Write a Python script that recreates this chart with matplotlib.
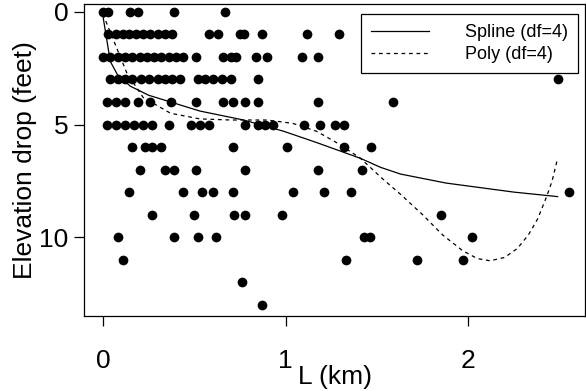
import matplotlib
matplotlib.use('Agg')
import matplotlib.pyplot as plt

plt.rcParams['font.family'] = ['Liberation Sans', 'DejaVu Sans']

# Stream length (km) and elevation drop (feet), one line per drop level
length_km = [
    0.00, 0.03, 0.15, 0.19, 0.39, 0.67,
    0.03, 0.07, 0.11, 0.14, 0.18, 0.22, 0.26, 0.30, 0.34, 0.38, 0.58, 0.63, 0.75, 0.77, 0.87, 1.12, 1.29,
    0.00, 0.04, 0.08, 0.12, 0.16, 0.20, 0.24, 0.28, 0.32, 0.36, 0.40, 0.44, 0.51, 0.66, 0.70, 0.73, 0.84, 0.90, 1.09, 1.18,
    0.04, 0.08, 0.12, 0.16, 0.21, 0.25, 0.30, 0.34, 0.38, 0.42, 0.52, 0.56, 0.60, 0.65, 0.70, 0.85, 2.49,
    0.02, 0.07, 0.12, 0.19, 0.26, 0.37, 0.51, 0.66, 0.71, 0.78, 0.85, 1.18, 1.59,
    0.02, 0.07, 0.12, 0.17, 0.22, 0.27, 0.36, 0.48, 0.53, 0.58, 0.78, 0.85, 0.89, 0.93, 1.10, 1.19, 1.27, 1.32,
    0.16, 0.23, 0.27, 0.32, 0.71, 1.01, 1.32, 1.47,
    0.20, 0.34, 0.39, 0.51, 0.78, 1.18, 1.42,
    0.14, 0.44, 0.54, 0.60, 0.71, 1.04, 1.21, 1.36, 2.55,
    0.27, 0.50, 0.72, 0.78, 0.98, 1.85,
    0.08, 0.39, 0.52, 0.62, 1.43, 1.46, 2.02,
    0.11, 1.33, 1.72, 1.97,
    0.76,
    0.87,
]
drop_ft = [
    0, 0, 0, 0, 0, 0,
    1, 1, 1, 1, 1, 1, 1, 1, 1, 1, 1, 1, 1, 1, 1, 1, 1,
    2, 2, 2, 2, 2, 2, 2, 2, 2, 2, 2, 2, 2, 2, 2, 2, 2, 2, 2, 2,
    3, 3, 3, 3, 3, 3, 3, 3, 3, 3, 3, 3, 3, 3, 3, 3, 3,
    4, 4, 4, 4, 4, 4, 4, 4, 4, 4, 4, 4, 4,
    5, 5, 5, 5, 5, 5, 5, 5, 5, 5, 5, 5, 5, 5, 5, 5, 5, 5,
    6, 6, 6, 6, 6, 6, 6, 6,
    7, 7, 7, 7, 7, 7, 7,
    8, 8, 8, 8, 8, 8, 8, 8, 8,
    9, 9, 9, 9, 9, 9,
    10, 10, 10, 10, 10, 10, 10,
    11, 11, 11, 11,
    12,
    13,
]

# fitted curves
spline_x = [0.00, 0.02, 0.04, 0.08, 0.15, 0.25, 0.37, 0.53, 0.77, 0.99, 1.17, 1.41, 1.52, 1.63, 1.88, 2.25, 2.49]
spline_y = [0.2, 1.2, 2.2, 2.8, 3.3, 3.7, 4.0, 4.4, 4.8, 5.3, 5.8, 6.5, 6.9, 7.2, 7.6, 8.0, 8.2]

poly_x = [0.00, 0.03, 0.07, 0.13, 0.22, 0.37, 0.53, 0.70, 0.90, 1.04, 1.17, 1.30, 1.41, 1.53, 1.63, 1.75,
          1.86, 1.97, 2.05, 2.12, 2.20, 2.27, 2.33, 2.38, 2.43, 2.46, 2.49]
poly_y = [0.1, 0.7, 1.5, 2.7, 3.8, 4.5, 4.75, 4.8, 4.8, 4.95, 5.3, 5.9, 6.5, 7.4, 8.1, 9.0,
          9.9, 10.6, 10.95, 11.05, 10.9, 10.5, 9.9, 9.2, 8.2, 7.5, 6.5]

x_ticks = [0, 1, 2]
y_ticks = [0, 5, 10]

fig = plt.figure(figsize=(5.86, 3.91), dpi=100)
ax = fig.add_axes([84 / 586, 1 - 316 / 391, (585 - 84) / 586, (316 - 4) / 391])

ax.plot(length_km, drop_ft, 'o', color='black', markersize=7, markeredgewidth=0)
ax.plot(spline_x, spline_y, color='black', lw=0.9, label='Spline (df=4)')
ax.plot(poly_x, poly_y, color='black', lw=0.9, linestyle=(0, (3, 3)), label='Poly (df=4)')

ax.set_xlim(-0.104, 2.64)
ax.set_ylim(13.5, -0.35)
ax.set_xticks(x_ticks)
ax.set_yticks(y_ticks)
ax.tick_params(axis='x', length=7, width=0.9, pad=17, labelsize=19)
ax.tick_params(axis='y', length=7, width=0.9, pad=4, labelsize=19)
for s in ax.spines.values():
    s.set_linewidth(0.9)

ax.set_xlabel('L (km)', fontsize=19, labelpad=-6)
ax.set_ylabel('Elevation drop (feet)', fontsize=19, labelpad=2)

leg = ax.legend(loc='upper right', bbox_to_anchor=(578 / 586, 1 - 14 / 391), bbox_transform=fig.transFigure,
                fontsize=13, frameon=True, fancybox=False, framealpha=1, handlelength=3.2, handletextpad=2.0,
                borderpad=0.55, labelspacing=0.3, borderaxespad=0)
leg.get_frame().set_edgecolor('black')
leg.get_frame().set_linewidth(0.9)

fig.savefig('out.png', dpi=100)
